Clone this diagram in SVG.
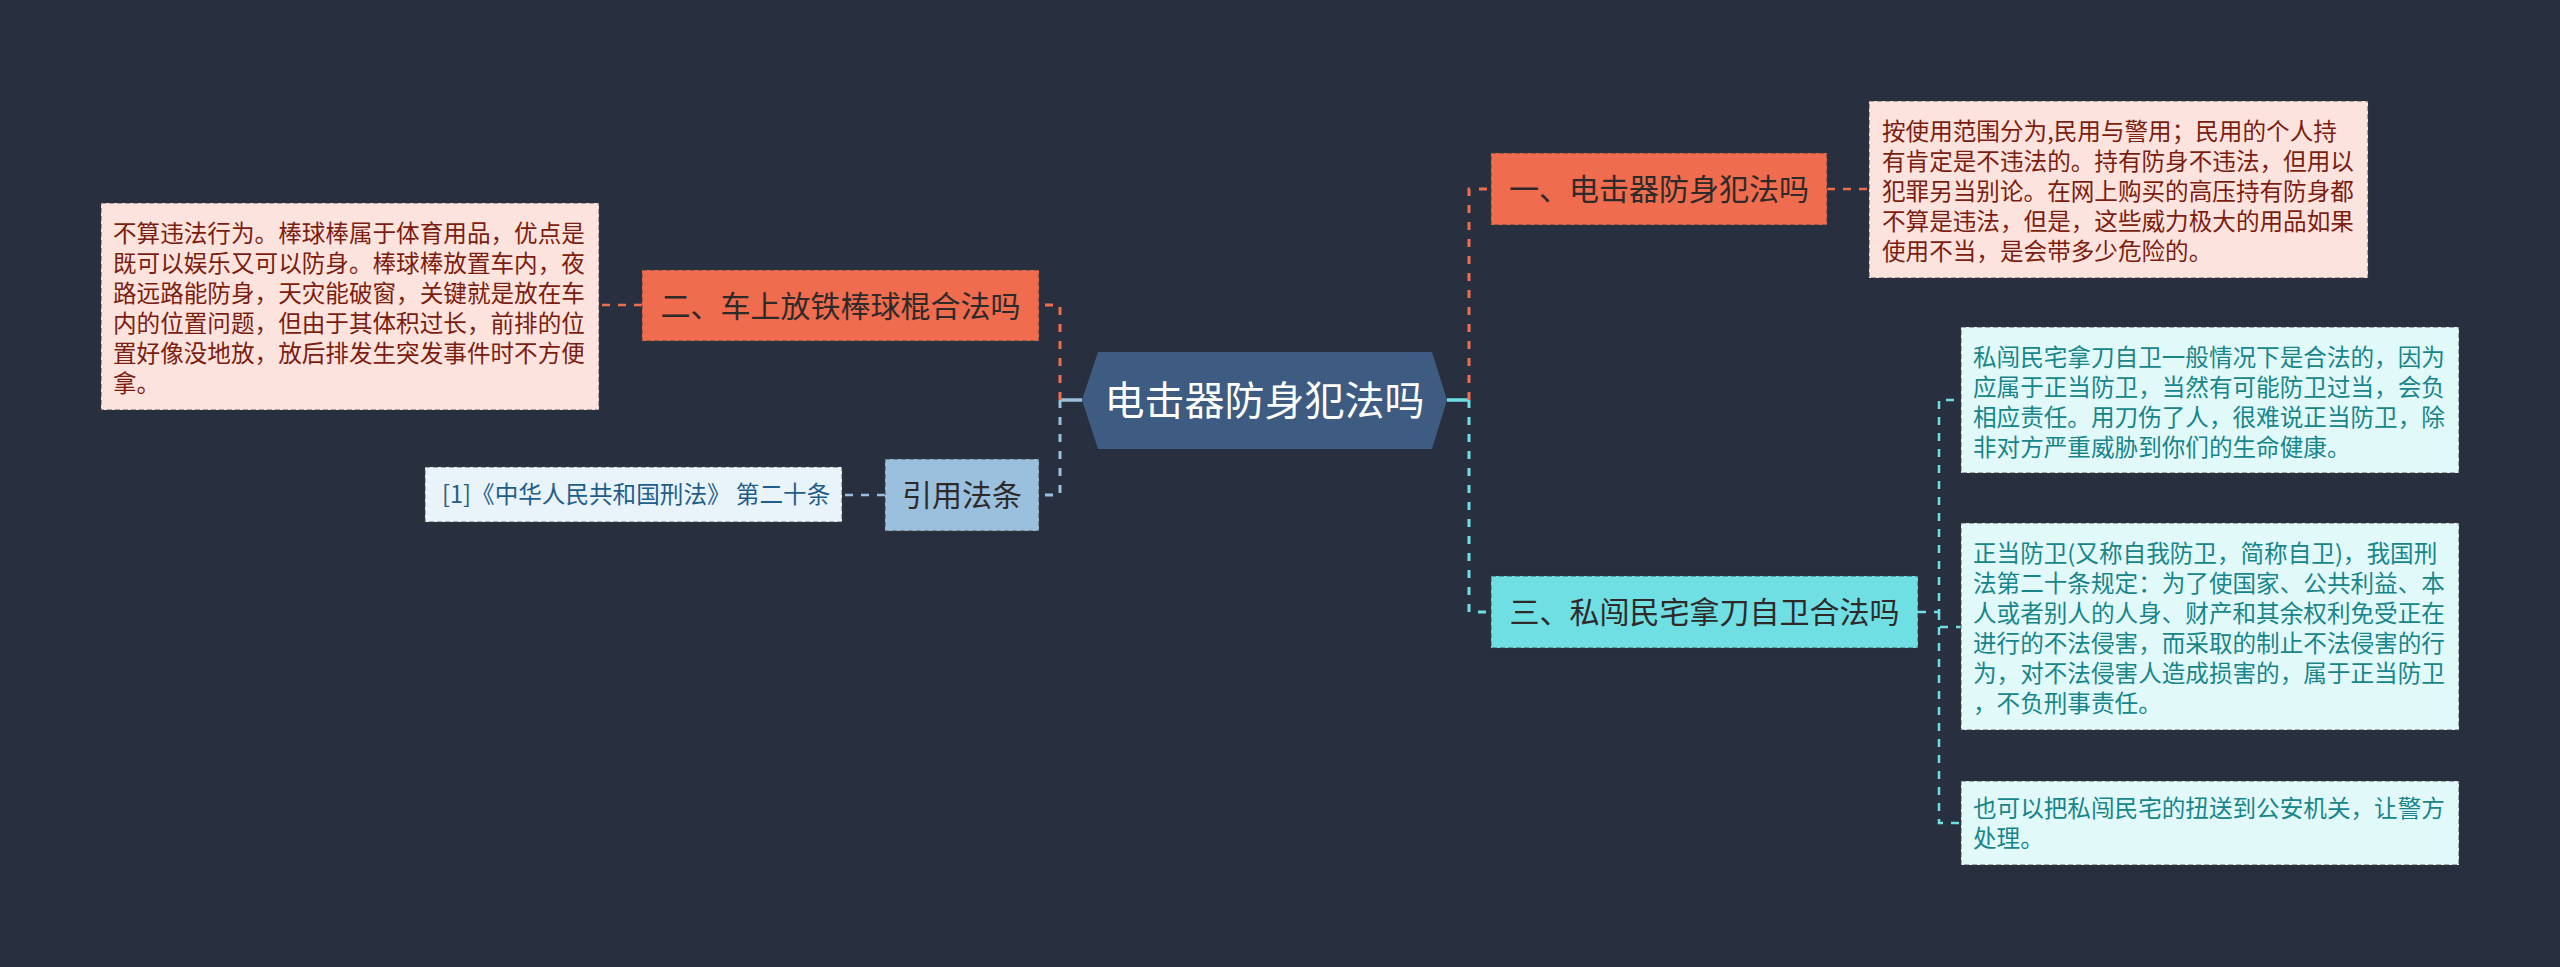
<svg xmlns="http://www.w3.org/2000/svg" width="2560" height="967" viewBox="0 0 2560 967">
<defs>
<style>
text{font-family:"Noto Sans CJK SC","Noto Sans",sans-serif;}
.main{fill:none;stroke-width:3;stroke-dasharray:8 9;}
.sub{fill:none;stroke-width:2.5;stroke-dasharray:8 8;}
.solid{fill:none;stroke-width:3.5;}
.or{stroke:#ef6c4e;}
.cy{stroke:#6fdfe4;}
.bl{stroke:#9ac0dd;}
.box{stroke:#3a3a3a;stroke-opacity:0.55;stroke-width:1.5;stroke-dasharray:5 3;}
.n-or{fill:#ef6c4e;}
.n-cy{fill:#6fdfe4;}
.n-bl{fill:#9ac0dd;}
.d-pk{fill:#fde3dd;}
.d-cy{fill:#e2f9fa;}
.d-bl{fill:#e9f3fa;}
.t-node{font-size:30px;fill:#2e2a2a;text-anchor:middle;}
.t-det{font-size:23.6px;}
.t-pk{fill:#7b1d10;}
.t-cy{fill:#17858a;}
.t-bl{fill:#1f5d8b;}
</style>
</defs>
<rect x="0" y="0" width="2560" height="967" fill="#28303f"/>

<g id="connectors">
<!-- center to left -->
<path class="solid bl" d="M1082,400 H1060"/>
<path class="main or" d="M1060,400 V305 H1039"/>
<path class="main bl" d="M1060,400 V495 H1039"/>
<!-- center to right -->
<path class="solid cy" d="M1447,400 H1469"/>
<path class="main or" d="M1469,400 V189 H1491"/>
<path class="main cy" d="M1469,400 V612 H1491"/>
<!-- node to details -->
<path class="sub or" d="M1827,189 H1869"/>
<path class="sub or" d="M642,305 H601"/>
<path class="sub bl" d="M885,495 H842"/>
<path class="sub cy" d="M1918,612 H1939 V400 H1961"/>
<path class="sub cy" d="M1939,612 V627 H1961"/>
<path class="sub cy" d="M1939,627 V823 H1961"/>
</g>

<g id="center">
<polygon points="1082,400 1098,352 1432,352 1447,400 1432,449 1098,449" fill="#3e5b82"/>
<text x="1264.5" y="415" font-size="40" fill="#ffffff" text-anchor="middle">电击器防身犯法吗</text>
</g>

<g id="node1">
<rect class="n-or box" x="1491" y="153" width="336" height="72"/>
<text class="t-node" x="1659" y="200">一、电击器防身犯法吗</text>
</g>

<g id="detail1">
<rect class="d-pk box" x="1869" y="101" width="499" height="177"/>
<text class="t-det t-pk">
<tspan x="1882" y="140">按使用范围分为,民用与警用；民用的个人持</tspan>
<tspan x="1882" y="170">有肯定是不违法的。持有防身不违法，但用以</tspan>
<tspan x="1882" y="200">犯罪另当别论。在网上购买的高压持有防身都</tspan>
<tspan x="1882" y="230">不算是违法，但是，这些威力极大的用品如果</tspan>
<tspan x="1882" y="260">使用不当，是会带多少危险的。</tspan>
</text>
</g>

<g id="node2">
<rect class="n-or box" x="642" y="270" width="397" height="71"/>
<text class="t-node" x="840.5" y="317">二、车上放铁棒球棍合法吗</text>
</g>

<g id="detail2">
<rect class="d-pk box" x="101" y="203" width="498" height="207"/>
<text class="t-det t-pk">
<tspan x="113" y="242">不算违法行为。棒球棒属于体育用品，优点是</tspan>
<tspan x="113" y="272">既可以娱乐又可以防身。棒球棒放置车内，夜</tspan>
<tspan x="113" y="302">路远路能防身，天灾能破窗，关键就是放在车</tspan>
<tspan x="113" y="332">内的位置问题，但由于其体积过长，前排的位</tspan>
<tspan x="113" y="362">置好像没地放，放后排发生突发事件时不方便</tspan>
<tspan x="113" y="392">拿。</tspan>
</text>
</g>

<g id="node-ref">
<rect class="n-bl box" x="885" y="459" width="154" height="72"/>
<text class="t-node" x="962" y="506" fill="#1f2a38">引用法条</text>
</g>

<g id="detail-ref">
<rect class="d-bl box" x="425" y="467" width="417" height="55"/>
<text class="t-det t-bl" x="442" y="503">[1]《中华人民共和国刑法》 第二十条</text>
</g>

<g id="node3">
<rect class="n-cy box" x="1491" y="576" width="427" height="72"/>
<text class="t-node" x="1704.5" y="623" fill="#1e2a30">三、私闯民宅拿刀自卫合法吗</text>
</g>

<g id="detail3a">
<rect class="d-cy box" x="1961" y="327" width="498" height="146"/>
<text class="t-det t-cy">
<tspan x="1973" y="366">私闯民宅拿刀自卫一般情况下是合法的，因为</tspan>
<tspan x="1973" y="396">应属于正当防卫，当然有可能防卫过当，会负</tspan>
<tspan x="1973" y="426">相应责任。用刀伤了人，很难说正当防卫，除</tspan>
<tspan x="1973" y="456">非对方严重威胁到你们的生命健康。</tspan>
</text>
</g>

<g id="detail3b">
<rect class="d-cy box" x="1961" y="523" width="498" height="207"/>
<text class="t-det t-cy">
<tspan x="1973" y="562">正当防卫(又称自我防卫，简称自卫)，我国刑</tspan>
<tspan x="1973" y="592">法第二十条规定：为了使国家、公共利益、本</tspan>
<tspan x="1973" y="622">人或者别人的人身、财产和其余权利免受正在</tspan>
<tspan x="1973" y="652">进行的不法侵害，而采取的制止不法侵害的行</tspan>
<tspan x="1973" y="682">为，对不法侵害人造成损害的，属于正当防卫</tspan>
<tspan x="1973" y="712">，不负刑事责任。</tspan>
</text>
</g>

<g id="detail3c">
<rect class="d-cy box" x="1961" y="781" width="498" height="84"/>
<text class="t-det t-cy">
<tspan x="1973" y="817">也可以把私闯民宅的扭送到公安机关，让警方</tspan>
<tspan x="1973" y="847">处理。</tspan>
</text>
</g>
</svg>
